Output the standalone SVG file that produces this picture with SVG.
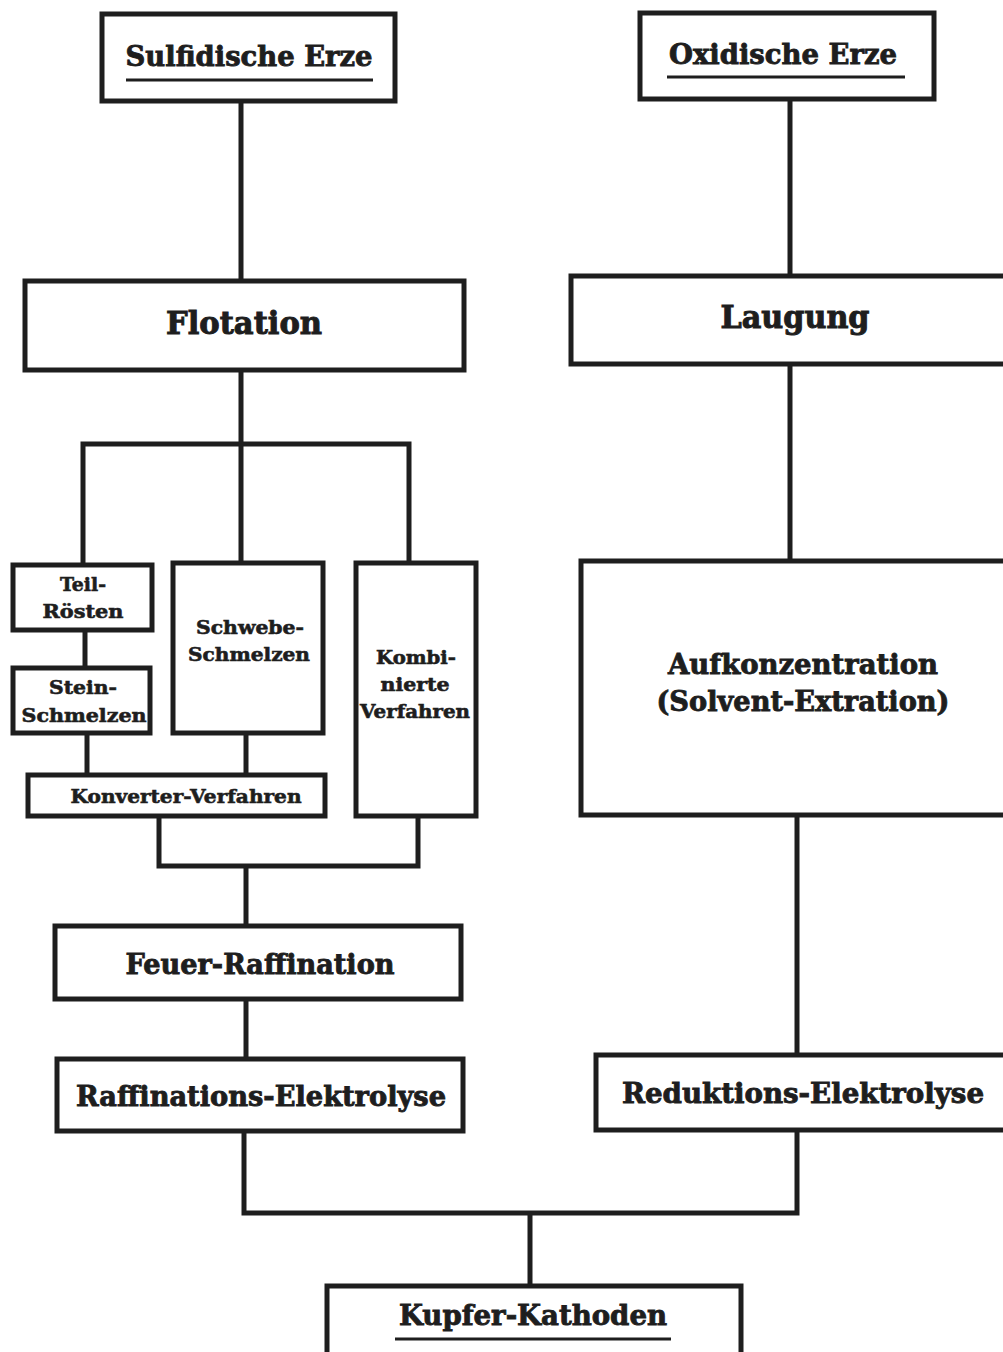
<svg xmlns="http://www.w3.org/2000/svg" width="1003" height="1352" viewBox="0 0 1003 1352">
<style>
.box{fill:#fff;stroke:#1e1e1e;stroke-width:5}
.ln{fill:none;stroke:#1e1e1e;stroke-width:5;stroke-linecap:square}
.ul{stroke:#1e1e1e;stroke-width:3}
text{font-family:"DejaVu Serif","Liberation Serif",serif;font-weight:bold;fill:#1e1e1e;stroke:#1e1e1e;text-anchor:middle}
.l{font-size:28px;stroke-width:0.9}
.xl{font-size:32px;stroke-width:1}
.s{font-size:19px;stroke-width:0.6}
</style>
<rect width="1003" height="1352" fill="#fff"/>
<g id="connectors">
<path class="ln" d="M241 101V281"/>
<path class="ln" d="M790 99V275"/>
<path class="ln" d="M241 370V444M83 565V444H409V562M241 444V563"/>
<path class="ln" d="M85 630V668"/>
<path class="ln" d="M87 733V775"/>
<path class="ln" d="M246 733V775"/>
<path class="ln" d="M159 816V866H418V816M246 866V926"/>
<path class="ln" d="M246 999V1059"/>
<path class="ln" d="M790 364V560"/>
<path class="ln" d="M797 815V1055"/>
<path class="ln" d="M244 1131V1213H797V1130M530 1213V1285"/>
</g>
<g id="sulfidische">
<rect class="box" x="102" y="14" width="293" height="87"/>
<text class="l" x="249" y="66" textLength="247" lengthAdjust="spacingAndGlyphs">Sulfidische Erze</text>
<line class="ul" x1="126" y1="80" x2="373" y2="80"/>
</g>
<g id="oxidische">
<rect class="box" x="640" y="13" width="294" height="86"/>
<text class="l" x="783" y="64" textLength="228" lengthAdjust="spacingAndGlyphs">Oxidische Erze</text>
<line class="ul" x1="667" y1="77" x2="905" y2="77"/>
</g>
<g id="flotation">
<rect class="box" x="25" y="281" width="439" height="89"/>
<text class="xl" x="244" y="334" textLength="156" lengthAdjust="spacingAndGlyphs">Flotation</text>
</g>
<g id="laugung">
<rect class="box" x="571" y="276" width="440" height="88"/>
<text class="xl" x="795" y="328" textLength="149" lengthAdjust="spacingAndGlyphs">Laugung</text>
</g>
<g id="teilroesten">
<rect class="box" x="13" y="565" width="139" height="65"/>
<text class="s" x="83" y="591" textLength="46" lengthAdjust="spacingAndGlyphs">Teil-</text>
<text class="s" x="83" y="618" textLength="81" lengthAdjust="spacingAndGlyphs">Rösten</text>
</g>
<g id="steinschmelzen">
<rect class="box" x="13" y="668" width="137" height="65"/>
<text class="s" x="83" y="694" textLength="68" lengthAdjust="spacingAndGlyphs">Stein-</text>
<text class="s" x="84" y="722" textLength="125" lengthAdjust="spacingAndGlyphs">Schmelzen</text>
</g>
<g id="schwebeschmelzen">
<rect class="box" x="173" y="563" width="150" height="170"/>
<text class="s" x="250" y="634" textLength="108" lengthAdjust="spacingAndGlyphs">Schwebe-</text>
<text class="s" x="249" y="661" textLength="122" lengthAdjust="spacingAndGlyphs">Schmelzen</text>
</g>
<g id="kombiniert">
<rect class="box" x="356" y="563" width="120" height="253"/>
<text class="s" x="416" y="664" textLength="80" lengthAdjust="spacingAndGlyphs">Kombi-</text>
<text class="s" x="415" y="691" textLength="69" lengthAdjust="spacingAndGlyphs">nierte</text>
<text class="s" x="415" y="718" textLength="110" lengthAdjust="spacingAndGlyphs">Verfahren</text>
</g>
<g id="konverter">
<rect class="box" x="28" y="775" width="297" height="41"/>
<text class="s" x="186" y="803" textLength="231" lengthAdjust="spacingAndGlyphs">Konverter-Verfahren</text>
</g>
<g id="aufkonzentration">
<rect class="box" x="581" y="561" width="430" height="254"/>
<text class="l" x="803" y="674" textLength="270" lengthAdjust="spacingAndGlyphs">Aufkonzentration</text>
<text class="l" x="803" y="711" textLength="293" lengthAdjust="spacingAndGlyphs">(Solvent-Extration)</text>
</g>
<g id="feuerraffination">
<rect class="box" x="55" y="926" width="406" height="73"/>
<text class="l" x="260" y="974" textLength="269" lengthAdjust="spacingAndGlyphs">Feuer-Raffination</text>
</g>
<g id="raffinationselektrolyse">
<rect class="box" x="57" y="1059" width="406" height="72"/>
<text class="l" x="261" y="1106" textLength="370" lengthAdjust="spacingAndGlyphs">Raffinations-Elektrolyse</text>
</g>
<g id="reduktionselektrolyse">
<rect class="box" x="596" y="1055" width="415" height="75"/>
<text class="l" x="803" y="1103" textLength="362" lengthAdjust="spacingAndGlyphs">Reduktions-Elektrolyse</text>
</g>
<g id="kupferkathoden">
<rect class="box" x="327" y="1286" width="414" height="80"/>
<text class="l" x="533" y="1325" textLength="268" lengthAdjust="spacingAndGlyphs">Kupfer-Kathoden</text>
<line class="ul" x1="395" y1="1339" x2="671" y2="1339"/>
</g>
</svg>
